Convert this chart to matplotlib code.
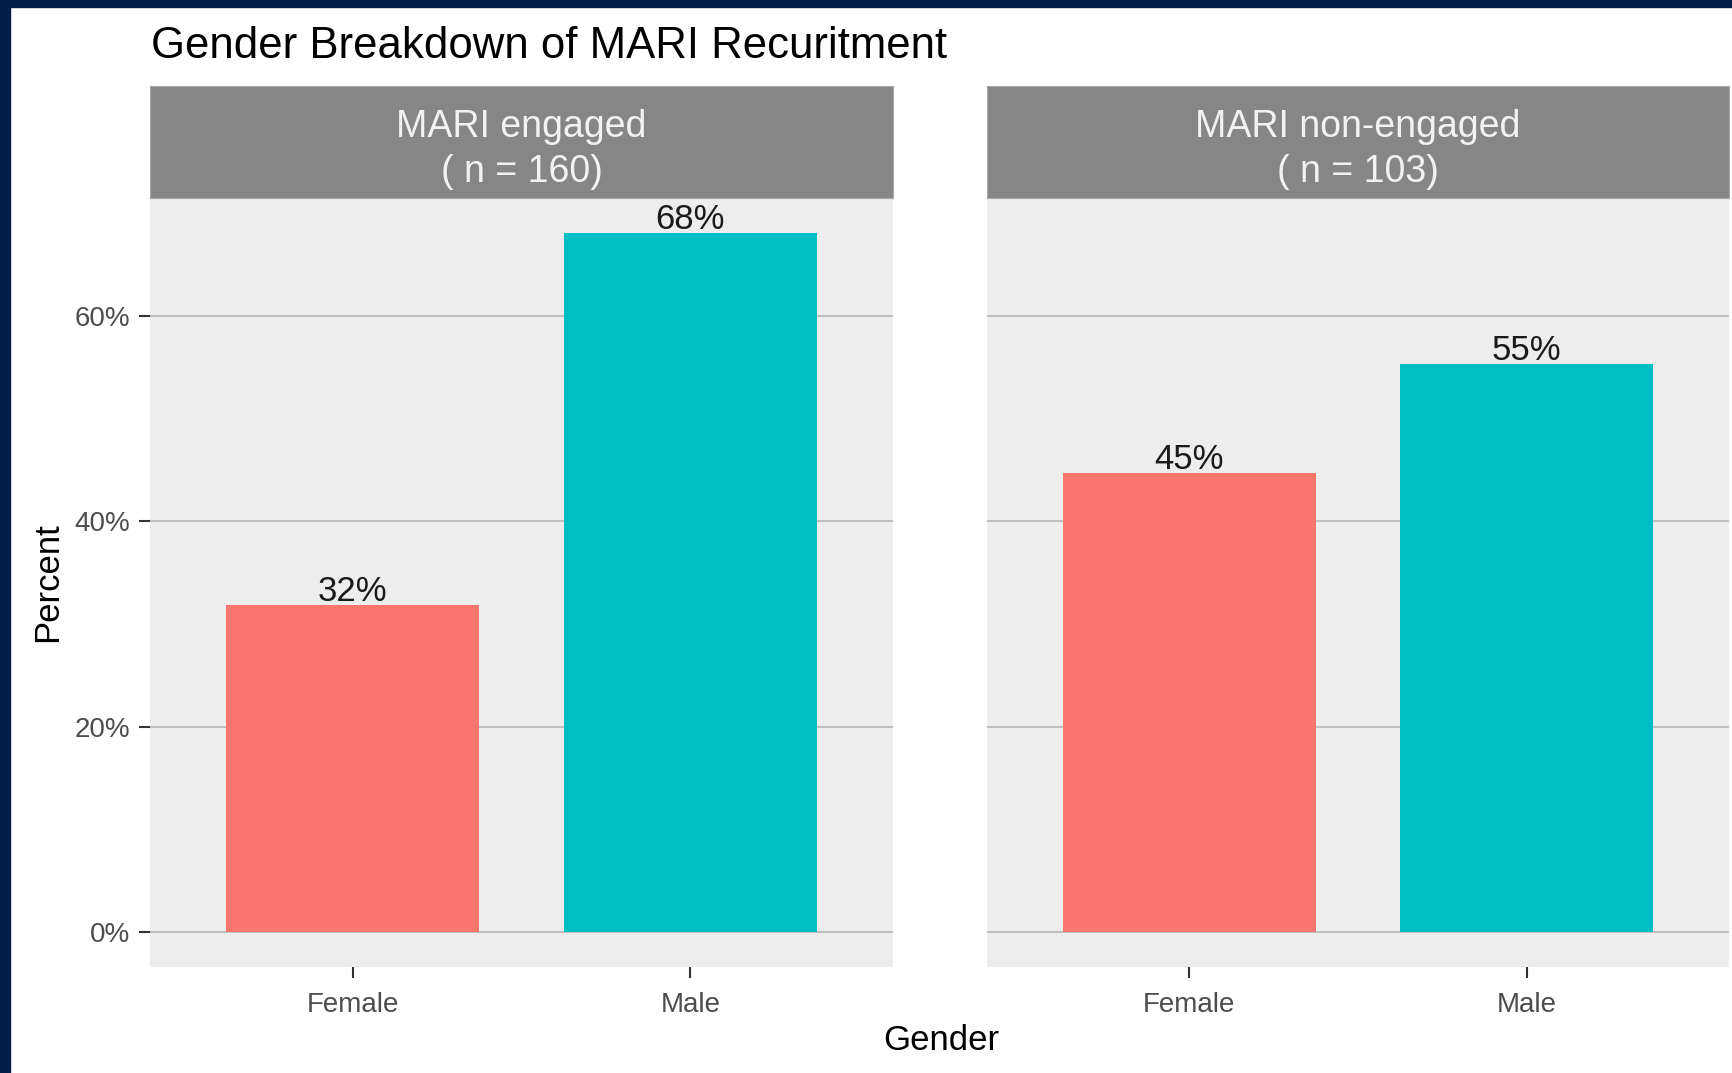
import matplotlib.pyplot as plt
from matplotlib.patches import Rectangle

plt.rcParams['font.family'] = ['Liberation Sans', 'DejaVu Sans']

# Data
genders = ['Female', 'Male']
engaged_pct = [31.9, 68.1]
non_engaged_pct = [44.7, 55.3]
panel_titles = ['MARI engaged\n( n = 160)', 'MARI non-engaged\n( n = 103)']
y_ticks = [0, 20, 40, 60]
y_tick_labels = ['0%', '20%', '40%', '60%']

bar_colors = ['#F8766D', '#00BFC4']
W, H = 1732, 1073

fig = plt.figure(figsize=(W / 100, H / 100), dpi=100)
fig.patch.set_facecolor('white')

# navy frame on left and top
navy = '#031E4A'
fig.patches.append(Rectangle((0, 0), 10 / W, 1, transform=fig.transFigure, color=navy, zorder=0))
fig.patches.append(Rectangle((0, 1 - 7 / H), 1, 7 / H, transform=fig.transFigure, color=navy, zorder=0))

panels = [(150, 893, engaged_pct), (987, 1729, non_engaged_pct)]
top, bottom, strip_top = 198, 967, 86

for i, (x0, x1, vals) in enumerate(panels):
    ax = fig.add_axes([x0 / W, (H - bottom) / H, (x1 - x0) / W, (bottom - top) / H])
    ax.set_facecolor('#EDEDED')
    xs = list(range(len(genders)))
    ax.bar(xs, vals, width=0.75, color=bar_colors, zorder=2)
    for x, v in zip(xs, vals):
        ax.text(x, v - 0.3, f'{round(v)}%', ha='center', va='bottom', fontsize=25, color='#1a1a1a', zorder=3)
    ax.set_xlim(-0.6, len(genders) - 0.4)
    ax.set_ylim(-3.4, 71.5)
    ax.set_yticks(y_ticks)
    ax.grid(axis='y', color='#BDBDBD', linewidth=1.4, zorder=1)
    ax.set_xticks(xs)
    ax.set_xticklabels(genders, fontsize=20, color='#4D4D4D')
    ax.tick_params(axis='x', length=8, width=1.5, color='#333333', pad=10)
    ax.tick_params(axis='y', length=8, width=1.5, color='#333333', pad=6)
    if i == 0:
        ax.set_yticklabels(y_tick_labels, fontsize=20, color='#4D4D4D')
        ax.set_ylabel('Percent', fontsize=25, labelpad=8)
    else:
        ax.tick_params(axis='y', left=False, labelleft=False)
    for s in ax.spines.values():
        s.set_visible(False)

    # facet strip
    sax = fig.add_axes([x0 / W, (H - top) / H, (x1 - x0) / W, (top - strip_top) / H])
    sax.set_facecolor('#868686')
    sax.set_xticks([])
    sax.set_yticks([])
    for s in sax.spines.values():
        s.set_color('#A8A8A8')
    sax.text(0.5, 0.43, panel_titles[i], ha='center', va='center', fontsize=27,
             color='#F2F2F2', linespacing=1.32, transform=sax.transAxes)

fig.text(151 / W, 1 - 46 / H, 'Gender Breakdown of MARI Recuritment', ha='left', va='center', fontsize=31.5)
fig.text(941 / W, 1 - 1041 / H, 'Gender', ha='center', va='center', fontsize=25)

fig.savefig('out.png', dpi=100)
